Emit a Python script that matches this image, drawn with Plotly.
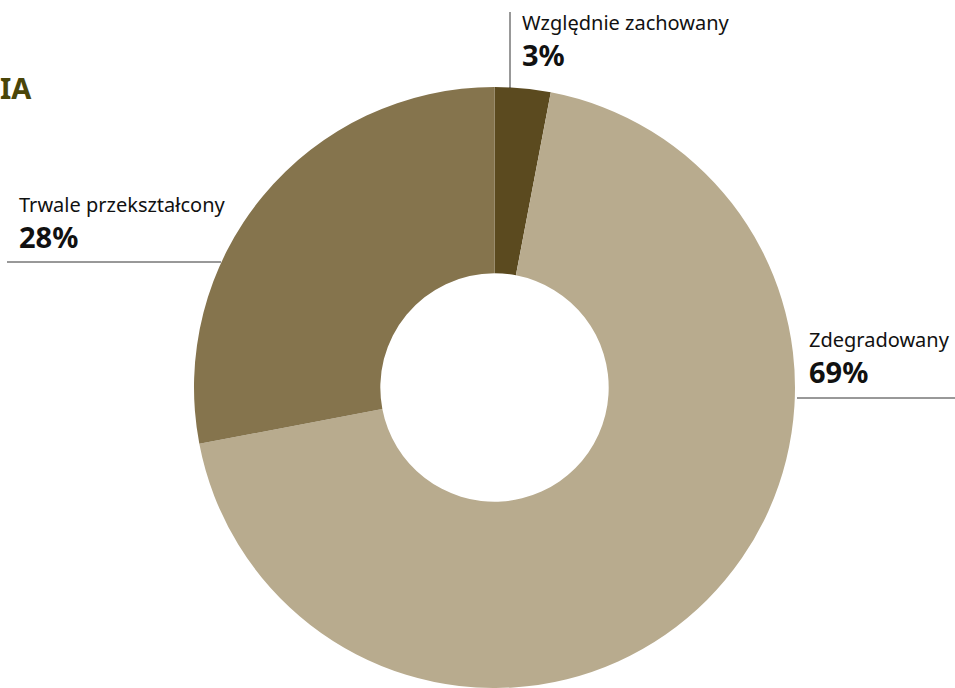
import plotly.graph_objects as go

categories = ["Względnie zachowany", "Zdegradowany", "Trwale przekształcony"]
values = [3, 69, 28]
colors = ["#5b4a1f", "#b8ab8e", "#85744d"]
title_text = "IA"

W, H = 955, 688
def px(x):
    return x / W
def py(y):
    return 1 - y / H

FONT = "Noto Sans"

fig = go.Figure(go.Pie(
    labels=categories,
    values=values,
    marker=dict(colors=colors, line=dict(width=0)),
    hole=0.38,
    sort=False,
    direction="clockwise",
    rotation=0,
    textinfo="none",
    hoverinfo="label+percent",
    showlegend=False,
    domain=dict(x=[px(192), px(797)], y=[0, py(87)]),
))

annotations = []
shapes = []

# Title fragment at the left edge
annotations.append(dict(text="<b>" + title_text + "</b>", x=px(-2.5), y=py(66), xref="paper", yref="paper",
                        xanchor="left", yanchor="top", showarrow=False,
                        font=dict(family=FONT, size=29, color="#4a4508")))

label_pos = {
    "Względnie zachowany": (520, 7),
    "Trwale przekształcony": (17, 189),
    "Zdegradowany": (807, 324),
}
total = sum(values)
for cat, v in zip(categories, values):
    x, y = label_pos[cat]
    annotations.append(dict(text=cat, x=px(x), y=py(y), xref="paper", yref="paper",
                            xanchor="left", yanchor="top", showarrow=False,
                            font=dict(family=FONT, size=20, color="#111111")))
    annotations.append(dict(text="<b>%d%%</b>" % round(100 * v / total), x=px(x), y=py(y + 26),
                            xref="paper", yref="paper", xanchor="left", yanchor="top", showarrow=False,
                            font=dict(family=FONT, size=29, color="#111111")))

line_style = dict(color="#333333", width=1)
shapes.append(dict(type="line", xref="paper", yref="paper", x0=px(510), x1=px(510), y0=py(12), y1=py(88), line=line_style))
shapes.append(dict(type="line", xref="paper", yref="paper", x0=px(7), x1=px(221), y0=py(262), y1=py(262), line=line_style))
shapes.append(dict(type="line", xref="paper", yref="paper", x0=px(797), x1=px(955), y0=py(398), y1=py(398), line=line_style))

fig.update_layout(
    width=W, height=H,
    margin=dict(l=0, r=0, t=0, b=0),
    paper_bgcolor="white",
    plot_bgcolor="white",
    annotations=annotations,
    shapes=shapes,
    font=dict(family=FONT),
)

fig.write_html("out.html", config={"displayModeBar": False},
               post_script="document.body.style.margin='0';document.body.style.overflow='hidden';")
